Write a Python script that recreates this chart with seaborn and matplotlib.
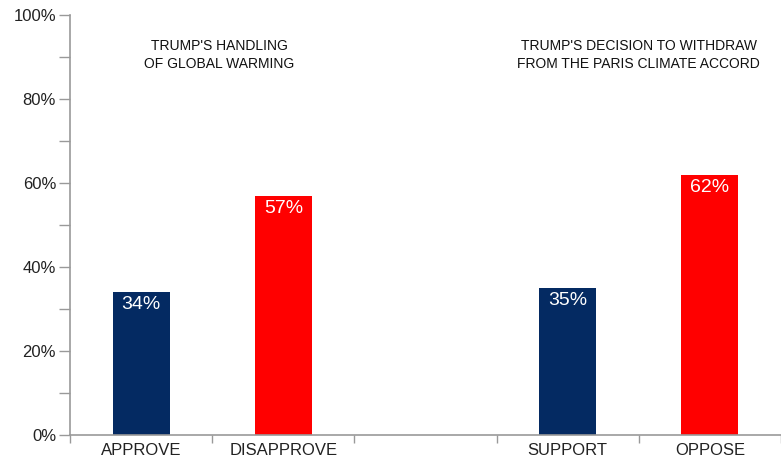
import matplotlib
matplotlib.use("Agg")
import matplotlib.pyplot as plt
import seaborn as sns
import pandas as pd
import numpy as np
from matplotlib.ticker import MultipleLocator, FixedLocator

categories = ["APPROVE", "DISAPPROVE", " ", "SUPPORT", "OPPOSE"]
values = [34, 57, np.nan, 35, 62]
colors = ["#042A62", "#FF0000", "#FFFFFF", "#042A62", "#FF0000"]
group_titles = ["TRUMP'S HANDLING\nOF GLOBAL WARMING",
                "TRUMP'S DECISION TO WITHDRAW\nFROM THE PARIS CLIMATE ACCORD"]
title_pos = [0.55, 3.5]
yticks = [0, 20, 40, 60, 80, 100]

sns.set_theme(style="white")
plt.rcParams["font.family"] = ["Liberation Sans", "DejaVu Sans"]

df = pd.DataFrame({"cat": categories, "val": values})

fig = plt.figure(figsize=(7.81, 4.69), dpi=100)
ax = fig.add_axes([70/781, 1 - 435/469, 1 - 70/781, 420/469])

sns.barplot(data=df, x="cat", y="val", hue="cat", order=categories,
            palette=dict(zip(categories, colors)), width=0.4, legend=False,
            ax=ax, saturation=1, edgecolor="none")

ax.set_ylim(0, 100)
ax.set_xlim(-0.5, 4.5)
ax.set_xlabel("")
ax.set_ylabel("")

# labels inside bars
for i, v in enumerate(values):
    if not np.isnan(v):
        ax.text(i, v - 3.0, f"{int(v)}%", ha="center", va="center",
                color="white", fontsize=14)

for t, x in zip(group_titles, title_pos):
    ax.text(x, 90.5, t, ha="center", va="center", fontsize=10,
            color="#111111", linespacing=1.4)

ax.set_yticks(yticks)
ax.set_yticklabels([f"{y}%" for y in yticks], fontsize=12, color="#222222")
ax.yaxis.set_minor_locator(MultipleLocator(10))
ax.tick_params(axis="y", which="major", left=True, length=8, width=1,
               color="#999999", pad=2)
ax.tick_params(axis="y", which="minor", left=True, length=8, width=1,
               color="#999999")

ax.set_xticks(range(len(categories)))
ax.set_xticklabels(categories, fontsize=12, color="#222222")
ax.xaxis.set_minor_locator(FixedLocator(np.arange(-0.5, 4.6, 1)))
ax.tick_params(axis="x", which="major", bottom=True, length=0, pad=6)
ax.tick_params(axis="x", which="minor", bottom=True, length=6, width=1,
               color="#999999")

for s in ["top", "right"]:
    ax.spines[s].set_visible(False)
for s in ["left", "bottom"]:
    ax.spines[s].set_color("#999999")
    ax.spines[s].set_linewidth(1.2)
ax.grid(False)

fig.savefig("out.png", dpi=100)
